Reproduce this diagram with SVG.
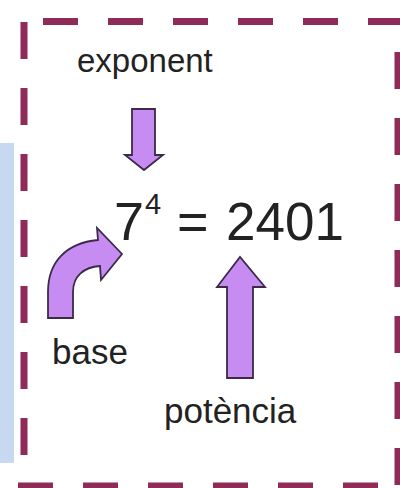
<svg xmlns="http://www.w3.org/2000/svg" width="400" height="488" viewBox="0 0 400 488">
<style>
.lbl{font-family:"Liberation Sans",Arial,sans-serif;fill:#222}
.arr{fill:#c68cf2;stroke:#3b2b48;stroke-width:1.8;stroke-linejoin:miter}
.bd{stroke:#8e2b57;stroke-width:7;fill:none}
</style>
<rect x="0" y="143" width="14" height="320" fill="#c6d9f0"/>
<g id="frame">
<line class="bd" x1="43" y1="21.5" x2="400" y2="21.5" stroke-dasharray="35 30"/>
<line class="bd" x1="24" y1="22" x2="24" y2="470" stroke-dasharray="37 29"/>
<line class="bd" x1="398" y1="52" x2="398" y2="488" stroke-dasharray="37 29"/>
<line class="bd" x1="18" y1="486" x2="400" y2="486" stroke-dasharray="35 30"/>
</g>
<g id="equation">
<text class="lbl" x="114" y="240" font-size="54">7</text>
<text class="lbl" x="145" y="214" font-size="29">4</text>
<text class="lbl" x="177" y="240" font-size="54">=</text>
<text class="lbl" x="226" y="240" font-size="53">2401</text>
</g>
<g id="exponent">
<text class="lbl" x="77" y="72" font-size="33">exponent</text>
</g>
<g id="base">
<text class="lbl" x="52" y="364" font-size="35">base</text>
</g>
<g id="potencia">
<text class="lbl" x="164" y="423" font-size="35">potència</text>
</g>
<g id="connectors">
<path class="arr" d="M132 109 H155 V155 H163 L144 170 L125 155 H132 Z"/>
<path class="arr" d="M227 378 V287 H217 L240 257 L265 287 H253 V378 Z"/>
<path class="arr" d="M48 318 L48 292 C48 262 66 243 98 240 L97 228 L122 254 L101 280 L100 266 C84 267 73 276 73 292 L73 318 Z"/>
</g>
</svg>
